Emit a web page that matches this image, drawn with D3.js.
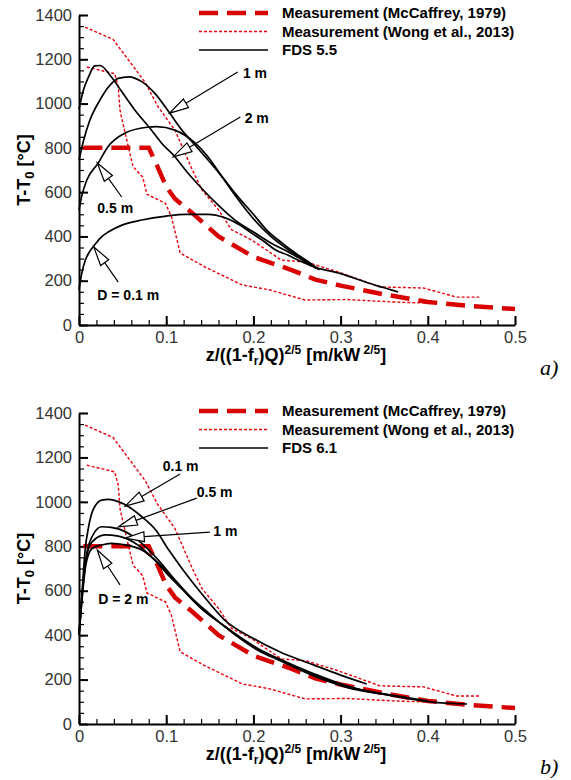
<!DOCTYPE html>
<html>
<head>
<meta charset="utf-8">
<script src="https://cdn.jsdelivr.net/npm/d3@7"></script>
<style>
body { margin: 0; background: #fff; }
svg { display: block; font-family: "Liberation Sans", Arial, Helvetica, sans-serif; }
</style>
</head>
<body>
<script>

var width = 571,
    height = 780;

// measurement data, [z/((1-fr)Q)^2/5, T-T0]
var mcCaffrey = [[0.005,800],[0.08,800],[0.09,715],[0.1,625],[0.11,570],[0.13,505],[0.16,400],
  [0.2,308],[0.244,248],[0.271,205],[0.3,178],[0.35,138],[0.4,104],[0.45,85],[0.5,72]];

var wongUpper = [[0.007,1345],[0.039,1290],[0.076,1095],[0.09,990],[0.11,880],[0.13,700],[0.141,610],
  [0.16,520],[0.175,430],[0.198,384],[0.232,293],[0.26,285],[0.297,240],[0.345,172],[0.395,167],
  [0.433,126],[0.459,126]];

var wongLower = [[0.009,1165],[0.041,1135],[0.045,1075],[0.047,970],[0.053,865],[0.062,715],[0.073,668],
  [0.078,590],[0.099,550],[0.106,490],[0.116,325],[0.144,263],[0.187,181],[0.219,158],[0.259,113],
  [0.307,115],[0.36,104],[0.40,99]];

// FDS 5.5
var fds55_d01 = [[0,160],[0.003,230],[0.007,290],[0.012,330],[0.018,362],[0.025,395],[0.034,421],[0.05,452],
  [0.072,474],[0.1,492],[0.122,500],[0.148,500],[0.167,485],[0.185,450],[0.198,415],[0.212,378],[0.225,340],
  [0.24,315],[0.251,294],[0.27,262],[0.3,232],[0.33,192],[0.35,168],[0.366,149]];
var fds55_d05 = [[0,520],[0.003,580],[0.009,655],[0.022,731],[0.033,804],[0.053,867],[0.078,893],[0.089,896],
  [0.11,880],[0.133,822],[0.148,759],[0.164,670],[0.18,580],[0.2,480],[0.22,400],[0.24,340],[0.26,290],[0.272,255]];
var fds55_d1 = [[0,745],[0.005,830],[0.012,920],[0.024,1016],[0.034,1076],[0.045,1114],[0.057,1121],[0.072,1099],
  [0.087,1046],[0.104,957],[0.118,880],[0.133,813],[0.148,745],[0.164,670],[0.18,590],[0.2,500],[0.215,430],
  [0.233,370],[0.25,320],[0.265,280],[0.275,250]];
var fds55_d2 = [[0,975],[0.005,1060],[0.011,1121],[0.018,1170],[0.024,1172],[0.037,1121],[0.049,1054],[0.064,971],
  [0.083,881],[0.095,820],[0.11,760],[0.122,700],[0.14,620],[0.16,540],[0.18,470],[0.2,420],[0.22,370],
  [0.24,330],[0.26,285],[0.276,250]];

// FDS 6.1
var fds61_d01 = [[0,400],[0.003,560],[0.007,783],[0.011,888],[0.016,963],[0.026,1008],[0.034,1011],[0.045,1001],
  [0.057,978],[0.072,933],[0.088,873],[0.103,783],[0.12,690],[0.14,590],[0.167,468],[0.2,385],[0.23,325],
  [0.269,266],[0.30,220],[0.33,180]];
var fds61_d05 = [[0,400],[0.003,560],[0.009,769],[0.015,843],[0.026,888],[0.037,885],[0.053,866],[0.072,813],
  [0.091,738],[0.11,648],[0.13,560],[0.15,490],[0.167,440],[0.206,338],[0.23,292],[0.27,225],[0.307,172],
  [0.34,140],[0.36,128]];
var fds61_d1 = [[0,400],[0.003,550],[0.008,740],[0.015,820],[0.03,851],[0.045,846],[0.064,815],[0.083,753],
  [0.1,680],[0.12,600],[0.14,520],[0.167,440],[0.206,333],[0.23,290],[0.27,218],[0.307,168],[0.357,131],[0.40,104]];
var fds61_d2 = [[0,400],[0.003,540],[0.008,720],[0.015,790],[0.026,806],[0.037,813],[0.053,806],[0.072,783],
  [0.091,724],[0.11,648],[0.13,565],[0.15,495],[0.167,438],[0.206,330],[0.23,286],[0.27,215],[0.307,165],
  [0.357,129],[0.403,100],[0.445,90]];

var xTicks = [0, 0.1, 0.2, 0.3, 0.4, 0.5];
var yTicks = [0, 200, 400, 600, 800, 1000, 1200, 1400];
var legendLabels = ['Measurement (McCaffrey, 1979)', 'Measurement (Wong et al., 2013)'];

// [label, tip x, tip y, leader start x, leader start y, text x, text y]
var notesA = [
  ['1 m', 0.104, 957, 0.182, 1143, 0.188, 1138],
  ['2 m', 0.108, 759, 0.185, 939, 0.190, 935],
  ['0.5 m', 0.021, 732, 0.049, 578, 0.021, 528],
  ['D = 0.1 m', 0.017, 352, 0.045, 194, 0.021, 135]
];
var notesB = [
  ['0.1 m', 0.053, 981, 0.116, 1125, 0.096, 1161],
  ['0.5 m', 0.045, 887, 0.135, 1017, 0.135, 1044],
  ['1 m', 0.053, 837, 0.150, 864, 0.154, 869],
  ['D = 2 m', 0.021, 783, 0.047, 626, 0.022, 563]
];

var svg = d3.select('body')
  .append('svg')
  .attr('width', width)
  .attr('height', height);

svg.append('rect').attr('width', width).attr('height', height).attr('fill', '#fff');

drawPanel({top: 15, bottom: 325, fds: 'FDS 5.5', tag: 'a)',
  curves: [fds55_d01, fds55_d05, fds55_d1, fds55_d2], notes: notesA});
drawPanel({top: 413, bottom: 724, fds: 'FDS 6.1', tag: 'b)',
  curves: [fds61_d01, fds61_d05, fds61_d1, fds61_d2], notes: notesB});

function drawPanel(p) {
  var x = d3.scaleLinear().domain([0, 0.5]).range([79, 515]);
  var y = d3.scaleLinear().domain([0, 1400]).range([p.bottom, p.top]);
  var g = svg.append('g');

  var line = d3.line()
    .x(function(d) { return x(d[0]); })
    .y(function(d) { return y(d[1]); });
  var smooth = d3.line()
    .curve(d3.curveMonotoneX)
    .x(function(d) { return x(d[0]); })
    .y(function(d) { return y(d[1]); });

  // minor ticks
  g.append('g')
    .attr('transform', 'translate(0,' + p.bottom + ')')
    .call(d3.axisBottom(x).tickValues(d3.range(0, 0.501, 0.02)).tickSize(-5).tickFormat(''))
    .call(function(a) { a.select('.domain').remove(); a.selectAll('line').attr('stroke-width', 1.2); });
  g.append('g')
    .attr('transform', 'translate(79,0)')
    .call(d3.axisLeft(y).tickValues(d3.range(0, 1401, 50)).tickSize(-5).tickFormat(''))
    .call(function(a) { a.select('.domain').remove(); a.selectAll('line').attr('stroke-width', 1.2); });

  // major axes
  var xa = g.append('g')
    .attr('transform', 'translate(0,' + p.bottom + ')')
    .call(d3.axisBottom(x).tickValues(xTicks).tickSize(-9).tickSizeOuter(0).tickPadding(6)
      .tickFormat(function(d) { return d === 0 ? '0' : d3.format('.1f')(d); }));
  var ya = g.append('g')
    .attr('transform', 'translate(79,0)')
    .call(d3.axisLeft(y).tickValues(yTicks).tickSize(-9).tickSizeOuter(0).tickPadding(7)
      .tickFormat(d3.format('d')));
  [xa, ya].forEach(function(a) {
    a.select('.domain').attr('stroke-width', 2);
    a.selectAll('line').attr('stroke-width', 2);
    a.selectAll('text').attr('font-size', 16.5).attr('fill', '#333')
      .attr('font-family', '"Liberation Sans", Arial, sans-serif');
  });

  // measurements
  g.append('path').datum(wongUpper).attr('d', line)
    .attr('fill', 'none').attr('stroke', '#e8000b').attr('stroke-width', 1.4).attr('stroke-dasharray', '3,2');
  g.append('path').datum(wongLower).attr('d', line)
    .attr('fill', 'none').attr('stroke', '#e8000b').attr('stroke-width', 1.4).attr('stroke-dasharray', '3,2');
  g.append('path').datum(mcCaffrey).attr('d', line)
    .attr('fill', 'none').attr('stroke', '#d90000').attr('stroke-width', 4.5).attr('stroke-dasharray', '19,9');

  // simulations
  g.selectAll('.fds').data(p.curves).enter()
    .append('path')
    .attr('d', smooth)
    .attr('fill', 'none').attr('stroke', '#000').attr('stroke-width', 1.7);

  // annotations
  p.notes.forEach(function(n) {
    var tx = x(n[1]), ty = y(n[2]), sx = x(n[3]), sy = y(n[4]);
    var dx = sx - tx, dy = sy - ty, len = Math.sqrt(dx * dx + dy * dy);
    var ux = dx / len, uy = dy / len;
    var bx = tx + ux * 19, by = ty + uy * 19;
    g.append('line').attr('x1', sx).attr('y1', sy).attr('x2', bx).attr('y2', by)
      .attr('stroke', '#000').attr('stroke-width', 1.2);
    g.append('path')
      .attr('d', 'M' + tx + ',' + ty + 'L' + (bx - uy * 5) + ',' + (by + ux * 5) +
        'L' + (bx + uy * 5) + ',' + (by - ux * 5) + 'Z')
      .attr('fill', '#fff').attr('stroke', '#000').attr('stroke-width', 1.2);
    g.append('text').attr('x', x(n[5])).attr('y', y(n[6]))
      .attr('dy', '0.36em').attr('font-size', 14).attr('font-weight', 'bold')
      .text(n[0]);
  });

  // legend
  var items = [
    {label: legendLabels[0], color: '#d90000', w: 4.5, dash: '19,9'},
    {label: legendLabels[1], color: '#e8000b', w: 1.4, dash: '3,2'},
    {label: p.fds, color: '#000', w: 1.7, dash: null}
  ];
  var lg = g.append('g').attr('transform', 'translate(199,' + (p.top - 2) + ')');
  items.forEach(function(d, i) {
    lg.append('line').attr('x1', 0).attr('x2', 69).attr('y1', i * 18.5).attr('y2', i * 18.5)
      .attr('stroke', d.color).attr('stroke-width', d.w).attr('stroke-dasharray', d.dash);
    lg.append('text').attr('x', 83).attr('y', i * 18.5).attr('dy', '0.36em')
      .attr('font-size', 15).attr('font-weight', 'bold').text(d.label);
  });

  // axis titles
  var yt = g.append('text')
    .attr('transform', 'translate(30,' + ((p.top + p.bottom) / 2) + ') rotate(-90)')
    .attr('text-anchor', 'middle').attr('font-size', 18).attr('font-weight', 'bold');
  yt.append('tspan').text('T-T');
  yt.append('tspan').attr('font-size', 13).attr('dy', 4).text('0');
  yt.append('tspan').attr('dy', -4).text(' [\u00B0C]');

  var xt = g.append('text')
    .attr('x', 296).attr('y', p.bottom + 36)
    .attr('text-anchor', 'middle').attr('font-size', 18).attr('font-weight', 'bold');
  xt.append('tspan').text('z/((1-f');
  xt.append('tspan').attr('font-size', 12).attr('dy', 4).text('r');
  xt.append('tspan').attr('dy', -4).text(')Q)');
  xt.append('tspan').attr('font-size', 12).attr('dy', -7).text('2/5');
  xt.append('tspan').attr('dy', 7).text(' [m/kW');
  xt.append('tspan').attr('font-size', 12).attr('dy', -7).text(' 2/5');
  xt.append('tspan').attr('dy', 7).text(']');

  g.append('text').attr('x', 540).attr('y', p.bottom + 50)
    .attr('font-family', '"Liberation Serif", "Times New Roman", serif')
    .attr('font-style', 'italic').attr('font-size', 22).text(p.tag);
}

</script>
</body>
</html>
